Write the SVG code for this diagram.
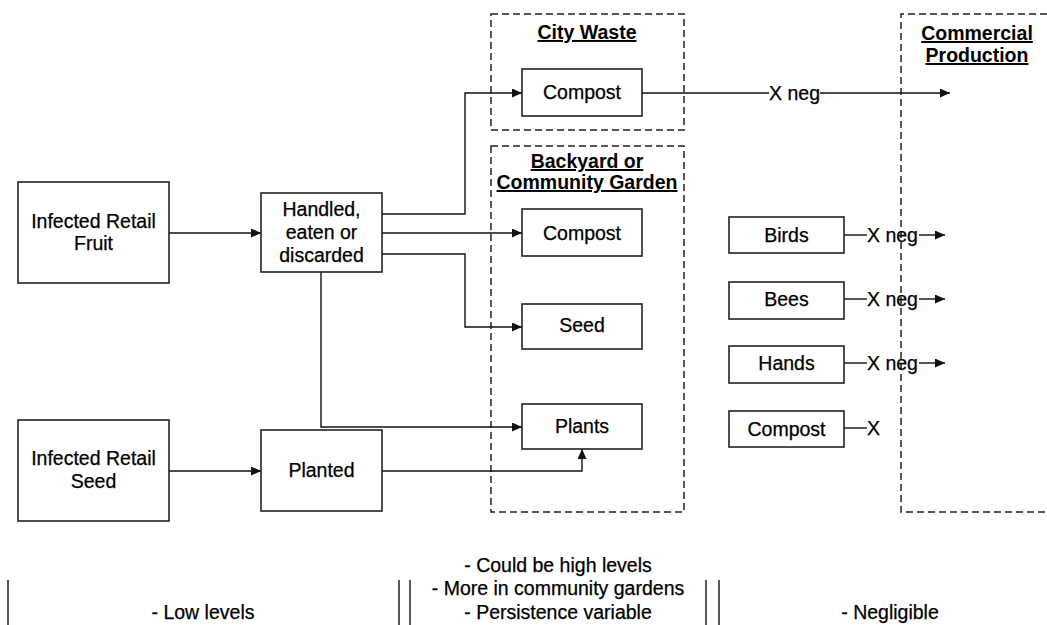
<svg xmlns="http://www.w3.org/2000/svg" width="1047" height="625" viewBox="0 0 1047 625">
<defs>
<style>
text{font-family:"Liberation Sans",Arial,sans-serif;font-size:19.5px;fill:#000;stroke:#000;stroke-width:0.25;text-anchor:middle}
.t{font-weight:bold;text-decoration:underline;stroke-width:0}
.box{fill:#fff;stroke:#222;stroke-width:1.6}
.dash{fill:none;stroke:#222;stroke-width:1.5;stroke-dasharray:7 4}
.c{fill:none;stroke:#111;stroke-width:1.4}
.a{marker-end:url(#arr)}
.s{text-anchor:start}
</style>
<marker id="arr" markerUnits="userSpaceOnUse" markerWidth="11" markerHeight="9" refX="10" refY="4.5" orient="auto">
<path d="M0,0 L10,4.5 L0,9 z" fill="#111"/>
</marker>
</defs>
<rect width="1047" height="625" fill="#fff"/>

<g id="city-waste">
<rect class="dash" x="491" y="14" width="193" height="116"/>
<text class="t" x="587" y="39">City Waste</text>
</g>
<g id="backyard-garden">
<rect class="dash" x="491" y="146" width="193" height="366"/>
<text class="t" x="587" y="168">Backyard or</text>
<text class="t" x="587" y="189">Community Garden</text>
</g>
<g id="commercial-production">
<path class="dash" d="M1047,14 H901 V512 H1047"/>
<text class="t" x="977" y="40">Commercial</text>
<text class="t" x="977" y="62">Production</text>
</g>

<g id="connectors">
<path class="c a" d="M169,233 H261"/>
<path class="c a" d="M382,214 H465 V93 H522"/>
<path class="c a" d="M382,233 H522"/>
<path class="c a" d="M382,254 H465 V327 H522"/>
<path class="c a" d="M321,272 V427 H522"/>
<path class="c a" d="M169,471 H261"/>
<path class="c a" d="M382,471 H582 V449"/>
<path class="c" d="M642,93 H769"/>
<path class="c a" d="M820,93 H950"/>
<text x="794.5" y="100">X neg</text>
<path class="c" d="M844,235 H867"/>
<path class="c a" d="M919,235 H945"/>
<text class="s" x="867" y="242">X neg</text>
<path class="c" d="M844,299 H867"/>
<path class="c a" d="M919,299 H945"/>
<text class="s" x="867" y="306">X neg</text>
<path class="c" d="M844,363 H867"/>
<path class="c a" d="M919,363 H945"/>
<text class="s" x="867" y="370">X neg</text>
<path class="c" d="M844,428 H867"/>
<text class="s" x="867" y="435">X</text>
</g>

<g id="infected-retail-fruit">
<rect class="box" x="18" y="182" width="151" height="101"/>
<text x="93.5" y="228">Infected Retail</text>
<text x="93.5" y="250">Fruit</text>
</g>
<g id="handled">
<rect class="box" x="261" y="193" width="121" height="79"/>
<text x="321.5" y="216">Handled,</text>
<text x="321.5" y="239">eaten or</text>
<text x="321.5" y="262">discarded</text>
</g>
<g id="infected-retail-seed">
<rect class="box" x="18" y="420" width="151" height="101"/>
<text x="93.5" y="465">Infected Retail</text>
<text x="93.5" y="488">Seed</text>
</g>
<g id="planted">
<rect class="box" x="261" y="430" width="121" height="81"/>
<text x="321.5" y="477">Planted</text>
</g>
<g id="compost-city">
<rect class="box" x="522" y="69" width="120" height="47"/>
<text x="582" y="99">Compost</text>
</g>
<g id="compost-garden">
<rect class="box" x="522" y="209" width="120" height="47"/>
<text x="582" y="240">Compost</text>
</g>
<g id="seed">
<rect class="box" x="522" y="304" width="120" height="45"/>
<text x="582" y="332">Seed</text>
</g>
<g id="plants">
<rect class="box" x="522" y="404" width="120" height="45"/>
<text x="582" y="433">Plants</text>
</g>
<g id="birds">
<rect class="box" x="729" y="217" width="115" height="36"/>
<text x="786.5" y="242">Birds</text>
</g>
<g id="bees">
<rect class="box" x="729" y="282" width="115" height="37"/>
<text x="786.5" y="306">Bees</text>
</g>
<g id="hands">
<rect class="box" x="729" y="346" width="115" height="37"/>
<text x="786.5" y="370">Hands</text>
</g>
<g id="compost-vector">
<rect class="box" x="729" y="411" width="115" height="36"/>
<text x="786.5" y="436">Compost</text>
</g>

<g id="legend">
<path class="c" d="M8,580 V625 M399,580 V625 M410,580 V625 M706,580 V625 M719,580 V625"/>
<text x="203" y="619">- Low levels</text>
<text x="558" y="572">- Could be high levels</text>
<text x="558" y="595">- More in community gardens</text>
<text x="558" y="619">- Persistence variable</text>
<text x="890" y="619">- Negligible</text>
</g>
</svg>
